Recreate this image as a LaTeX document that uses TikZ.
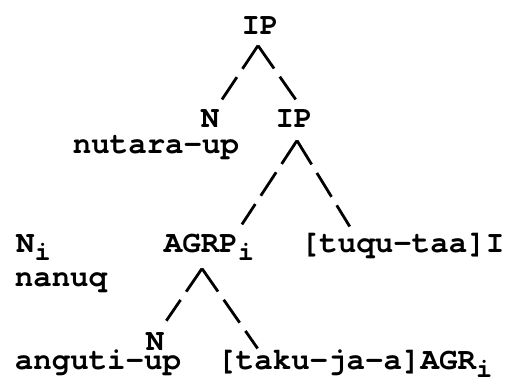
\documentclass[tikz,border=0pt]{standalone}
\usepackage{fontspec}
\newfontfamily\treefont{texgyrecursor}[Extension=.otf, UprightFont=*-regular, BoldFont=*-bold]
\usetikzlibrary{positioning}
\tikzset{
x=0.5pt, y=-0.5pt, % one unit is one pixel of the scan, y runs down
on grid, % node distances are measured centre to centre
word/.style={font=\treefont\bfseries\fontsize{15.4}{18}\selectfont, inner sep=0pt, text height=9.55pt, text depth=3.1pt}, % sets the look of every label
branch/.style={line width=1.4pt, dash pattern=on 14pt off 5pt}, % a branch typed as broken slashes
}
\newcommand{\idx}{\raisebox{-0.25em}{\fontsize{13.5}{15}\selectfont i}}

\begin{document}
\begin{tikzpicture}
    \useasboundingbox (0,0) rectangle (505,387);
    \node[word] (ip0) at (260,28.5) {IP};
    \node[word, below left=46.5pt and 25pt of ip0] (n1) {N};
    \node[word, below right=46.5pt and 17pt of ip0] (ip1) {IP};
    \node[word, below left=13pt and 27pt of n1] (nutara) {nutara-up};
    \node[word, below left=62.5pt and 42.5pt of ip1] (agrp) {AGRP\idx};
    \node[word, below right=62.5pt and 54.3pt of ip1] (tuqu) {[tuqu-taa]I};
    \node[word, left=87.75pt of agrp] (ni) {N\idx};
    \node[word, below right=17pt and 13.75pt of ni] (nanuq) {nanuq};
    \node[word, below left=49pt and 27pt of agrp] (n2) {N};
    \node[word, below left=9.5pt and 28.5pt of n2] (anguti) {anguti-up};
    \node[word, below right=9.5pt and 99.9pt of n2] (taku) {[taku-ja-a]AGR\idx};
    \coordinate (ip0-top) at ([xshift=-1pt, yshift=-2pt]ip0.south);
    \coordinate (ip1-top) at ([xshift=1.5pt, yshift=-3pt]ip1.south);
    \coordinate (agrp-top) at ([xshift=-3.5pt, yshift=-4.5pt]agrp.south);
    \draw[branch, shorten >=5.4pt] (ip0-top) -- ([xshift=3pt]n1.north);
    \draw[branch, shorten >=5.5pt] (ip0-top) -- ([xshift=4pt]ip1.north);
    \draw[branch, shorten >=5.4pt] (ip1-top) -- ([xshift=13.5pt]agrp.north);
    \draw[branch, shorten >=4.1pt] (ip1-top) -- ([xshift=-24.3pt]tuqu.north);
    \draw[branch, shorten >=6.5pt] (agrp-top) -- ([xshift=2pt]n2.north);
    \draw[branch, shorten >=1.2pt] (agrp-top) -- ([xshift=-47.9pt]taku.north);
\end{tikzpicture}
\end{document}
